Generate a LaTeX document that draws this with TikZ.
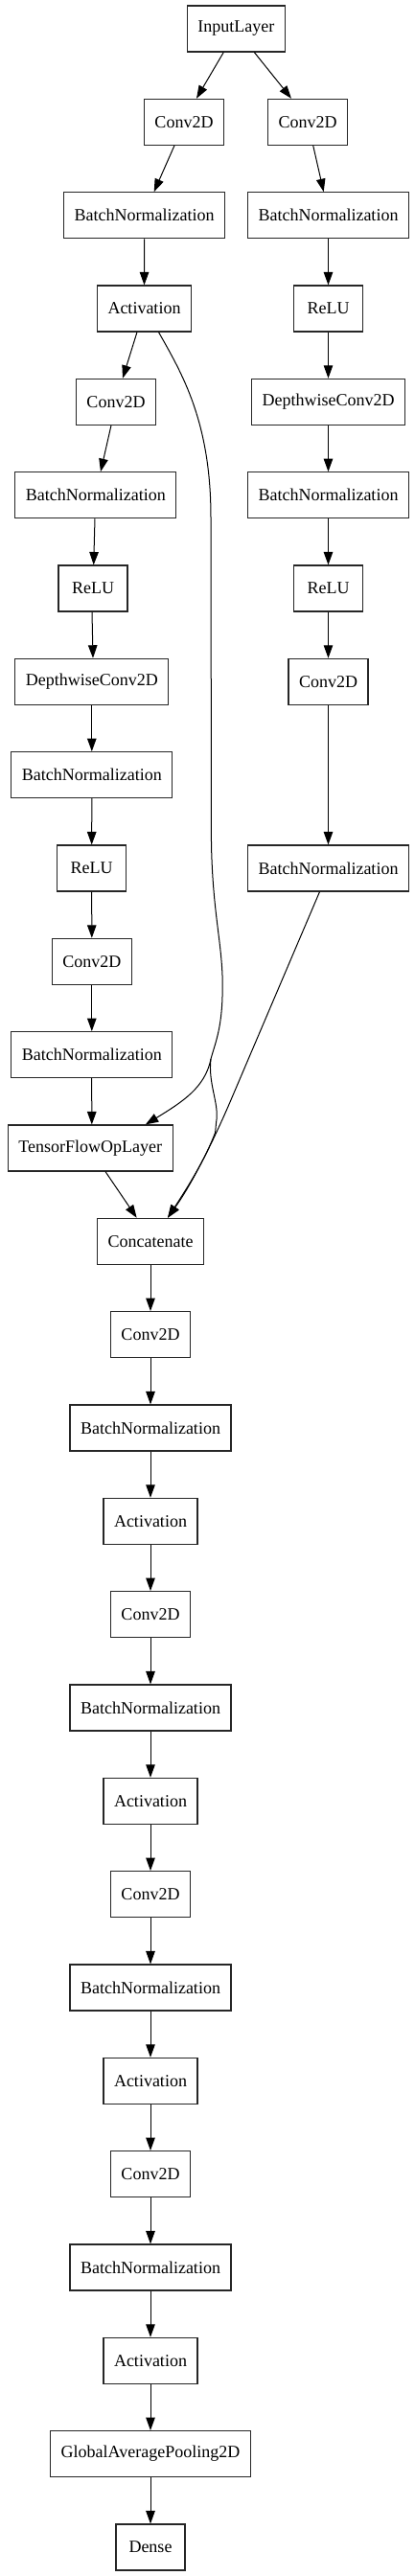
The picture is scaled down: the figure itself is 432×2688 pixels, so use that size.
\documentclass[tikz,border=0pt]{standalone}
\usepackage{fontspec}
\setmainfont{Liberation Serif}
\usetikzlibrary{arrows.meta}
\begin{document}
\begin{tikzpicture}[x=1pt,y=-1pt,
  box/.style={draw=black!85,line width=1.1pt,rectangle,minimum width=72pt,minimum height=48pt,inner xsep=11pt,inner ysep=0pt,font=\fontsize{18}{20}\selectfont,fill=white},
  link/.style={line width=1pt},
  arr/.style={link,-{Triangle[length=13.5pt,width=9.5pt]}}]
\useasboundingbox (0,0) rectangle (432,2688);
% left / top
\node[box] (inp) at (246.3,30) {InputLayer};
\node[box] (c1L) at (192,127.3) {Conv2D};
\node[box] (c1R) at (321,127.3) {Conv2D};
\node[box] (bnL) at (150.7,224.7) {BatchNormalization};
\node[box] (bnR) at (342.5,224.7) {BatchNormalization};
\node[box] (act) at (150.5,322) {Activation};
\node[box] (reluR) at (342.5,322) {ReLU};
\node[box] (c2L) at (121,419.3) {Conv2D};
\node[box] (dwR) at (342.7,419.3) {DepthwiseConv2D};
\node[box] (bn5L) at (99.8,516.7) {BatchNormalization};
\node[box] (bn5R) at (342.5,516.7) {BatchNormalization};
\node[box] (relu6L) at (97,614) {ReLU};
\node[box] (relu6R) at (342.5,614) {ReLU};
\node[box] (dw7L) at (95.8,711.3) {DepthwiseConv2D};
\node[box] (c7R) at (342.5,711.3) {Conv2D};
\node[box] (bn8L) at (95.8,808.6) {BatchNormalization};
\node[box] (relu9L) at (95.7,906) {ReLU};
\node[box] (bn9R) at (342.5,906) {BatchNormalization};
\node[box] (c10L) at (95.8,1003.3) {Conv2D};
\node[box] (bn11L) at (95.8,1100.6) {BatchNormalization};
\node[box] (tfop) at (94.3,1198) {TensorFlowOpLayer};
\node[box] (concat) at (157,1295.3) {Concatenate};
% main column
\node[box] (c14) at (157,1392.6) {Conv2D};
\node[box] (bn15) at (157,1490) {BatchNormalization};
\node[box] (act16) at (157,1587.3) {Activation};
\node[box] (c17) at (157,1684.6) {Conv2D};
\node[box] (bn18) at (157,1782) {BatchNormalization};
\node[box] (act19) at (157,1879.3) {Activation};
\node[box] (c20) at (157,1976.6) {Conv2D};
\node[box] (bn21) at (157,2074) {BatchNormalization};
\node[box] (act22) at (157,2171.3) {Activation};
\node[box] (c23) at (157,2268.6) {Conv2D};
\node[box] (bn24) at (157,2366) {BatchNormalization};
\node[box] (act25) at (157,2463.3) {Activation};
\node[box] (gap) at (157,2560.6) {GlobalAveragePooling2D};
\node[box] (dense) at (157,2658) {Dense};
% edges top
\draw[arr] ([xshift=-13pt]inp.south) -- ([xshift=13pt]c1L.north);
\draw[arr] ([xshift=19pt]inp.south) -- ([xshift=-17pt]c1R.north);
\draw[arr] ([xshift=-10pt]c1L.south) -- ([xshift=10pt]bnL.north);
\draw[arr] ([xshift=5.7pt]c1R.south) -- ([xshift=-4.8pt]bnR.north);
\draw[arr] (bnL.south) -- (act.north);
\draw[arr] (bnR.south) -- (reluR.north);
\draw[arr] (reluR.south) -- (dwR.north -| reluR.south);
\draw[arr] (dwR.south -| bn5R.north) -- (bn5R.north);
\draw[arr] (bn5R.south) -- (relu6R.north);
\draw[arr] (relu6R.south) -- (c7R.north);
\draw[arr] (c7R.south) -- (bn9R.north);
\draw[arr] ([xshift=-7.5pt]act.south) -- ([xshift=7pt]c2L.north);
\draw[arr] ([xshift=-5pt]c2L.south) -- ([xshift=5.2pt]bn5L.north);
\draw[arr] ([xshift=-0.8pt]bn5L.south) -- ([xshift=0.7pt]relu6L.north);
\draw[arr] ([xshift=-1pt]relu6L.south) -- (relu6L.south |- dw7L.north);
\draw[arr] (dw7L.south) -- (bn8L.north);
\draw[arr] (bn8L.south) -- (relu9L.north);
\draw[arr] (relu9L.south) -- (c10L.north);
\draw[arr] (c10L.south) -- (bn11L.north);
\draw[arr] ([xshift=-0.1pt]bn11L.south) -- (bn11L.south |- tfop.north);
% skip connections (shared trunk, then two branches)
\coordinate (split) at (220,1105);
\coordinate (merge) at (224.5,1182);
\draw[link] ([xshift=15pt]act.south) .. controls (190,390) and (220,440) .. (220,540)
  -- (220.5,880) .. controls (222,960) and (234,990) .. (232,1040)
  .. controls (231,1075) and (224,1090) .. (split);
\draw[arr] (split) .. controls (214,1135) and (190,1150) .. ([xshift=57.5pt]tfop.north);
\draw[arr] (split) .. controls (217,1130) and (228,1150) .. (226,1168)
  .. controls (225,1176) and (225,1179) .. (merge)
  .. controls (214,1210) and (195,1240) .. ([xshift=18pt]concat.north);
\draw[arr] ([xshift=-9pt]bn9R.south) -- (240,1150) .. controls (228,1178) and (204,1230) .. ([xshift=18pt]concat.north);
\draw[arr] ([xshift=15.7pt]tfop.south) -- ([xshift=-14.3pt]concat.north);
% main chain
\foreach \a/\b in {concat/c14,c14/bn15,bn15/act16,act16/c17,c17/bn18,bn18/act19,act19/c20,c20/bn21,bn21/act22,act22/c23,c23/bn24,bn24/act25,act25/gap,gap/dense}
  \draw[arr] (\a.south) -- (\b.north);
\end{tikzpicture}
\end{document}
